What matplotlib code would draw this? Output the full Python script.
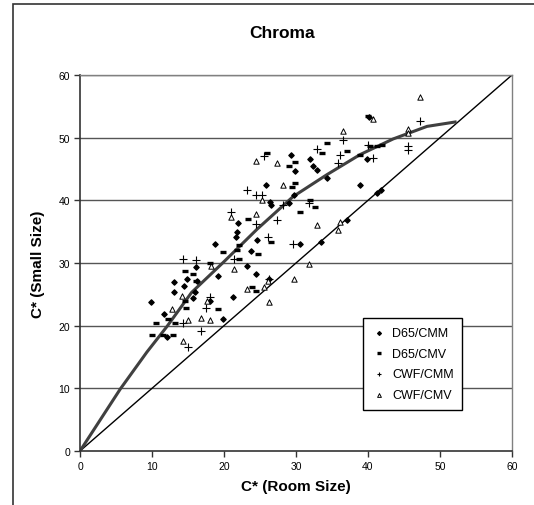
import matplotlib
matplotlib.use("Agg")
import matplotlib.pyplot as plt
from matplotlib.patches import Rectangle

plt.rcParams["font.family"] = ["Liberation Sans", "DejaVu Sans"]

# D65/CMM
d65_cmm_x = [9.9, 11.7, 12.1, 13.1, 13.1, 14.5, 14.9, 15.7, 16.0, 16.1, 16.2, 18.1, 18.75, 19.2,
             19.8, 21.2, 21.7, 21.8, 21.9, 23.2, 23.8, 24.4, 24.6, 25.8, 26.3, 26.4, 26.5, 29.0,
             29.3, 29.7, 29.9, 30.6, 31.9, 32.4, 32.9, 33.5, 34.3, 37.1, 38.9, 39.9, 40.2, 41.2, 41.8]
d65_cmm_y = [23.7, 21.8, 18.2, 26.9, 25.3, 26.4, 27.4, 24.4, 25.3, 29.3, 27.1, 24.0, 33.0, 27.9,
             21.1, 24.5, 34.1, 34.9, 36.4, 29.6, 31.9, 28.3, 33.6, 42.5, 27.5, 39.8, 39.3, 39.6,
             47.3, 40.9, 44.7, 33.1, 46.6, 45.5, 44.9, 33.4, 43.6, 36.9, 42.4, 46.6, 53.3, 41.2, 41.7]

# D65/CMV
d65_cmv_x = [10.0, 10.6, 11.5, 12.2, 12.9, 13.2, 14.6, 14.7, 14.6, 15.7, 16.1, 18.1, 19.2, 19.9,
             21.8, 22.1, 22.1, 23.3, 23.9, 24.4, 24.7, 26.5, 26.0, 29.0, 29.4, 29.9, 29.9, 30.6,
             31.9, 32.6, 33.6, 34.3, 37.1, 38.9, 40.0, 40.3, 41.3, 41.9]
d65_cmv_y = [18.5, 20.5, 18.5, 21.0, 18.5, 20.5, 23.9, 22.8, 28.7, 28.2, 27.1, 30.0, 22.6, 31.7,
             32.0, 32.8, 30.7, 37.1, 26.1, 25.5, 31.5, 33.3, 47.6, 45.5, 42.2, 42.8, 46.1, 38.1,
             40.0, 38.9, 47.6, 49.2, 47.9, 47.3, 53.5, 48.6, 48.6, 48.9]

# CWF/CMM
cwf_cmm_x = [14.3, 16.1, 21.4, 14.3, 15.0, 16.8, 17.5, 18.1, 21.0, 23.2, 24.4, 24.4, 25.3, 25.6,
             26.1, 26.2, 27.3, 28.2, 29.6, 31.8, 32.9, 35.8, 36.1, 36.5, 40.0, 40.7, 45.6, 45.6, 47.2]
cwf_cmm_y = [30.7, 30.4, 30.7, 20.5, 16.6, 19.1, 22.8, 24.5, 38.1, 41.6, 40.9, 36.2, 40.9, 47.1,
             34.2, 27.4, 36.9, 39.2, 33.0, 39.5, 48.2, 46.0, 47.3, 49.7, 48.9, 46.7, 48.6, 48.1, 52.7]

# CWF/CMV
cwf_cmv_x = [12.8, 14.2, 14.3, 15.0, 16.8, 17.6, 18.1, 18.2, 21.0, 21.4, 23.2, 24.4, 24.4, 25.3,
             25.6, 26.1, 26.3, 27.3, 28.2, 29.7, 31.8, 32.9, 35.8, 36.1, 36.5, 40.7, 45.6, 45.6, 47.2]
cwf_cmv_y = [22.6, 24.7, 17.5, 20.9, 21.3, 24.0, 20.9, 29.6, 37.4, 29.1, 25.9, 46.2, 37.8, 40.0,
             26.1, 27.2, 23.7, 46.0, 42.5, 27.5, 29.8, 36.0, 35.2, 36.5, 51.0, 53.0, 51.4, 50.8, 56.5]

# fitted curve and 1:1 line
curve_x = [0, 5.6, 9.3, 12.1, 15.5, 19.9, 24.6, 29.6, 34.3, 38.9, 43.5, 48.2, 52.1]
curve_y = [0, 9.9, 15.8, 19.9, 25.3, 30.1, 35.4, 40.6, 44.1, 47.3, 49.8, 51.8, 52.5]
diag = [0, 60]

ticks = [0, 10, 20, 30, 40, 50, 60]

fig = plt.figure(figsize=(5.34, 5.06), dpi=100)

# outer chart frame (cut off at right and bottom)
fig.patches.append(Rectangle((13 / 534, -0.1), 1.2, 1 - 5 / 506 + 0.1,
                             transform=fig.transFigure, fill=False,
                             edgecolor="#333333", linewidth=1.2))

ax = fig.add_axes([80 / 534, 54 / 506, 432 / 534, 376 / 506])

for y in ticks[1:]:
    ax.axhline(y, color="#555555", linewidth=1.0, zorder=1)

ax.plot(diag, diag, color="black", linewidth=1.0, zorder=2)
ax.plot(curve_x, curve_y, color="#404040", linewidth=2.2, zorder=2)

ax.scatter(d65_cmm_x, d65_cmm_y, marker="D", s=7, color="black", label="D65/CMM", zorder=3)
ax.scatter(d65_cmv_x, d65_cmv_y, marker="_", s=24, color="black", linewidths=2.4,
           label="D65/CMV", zorder=3)
ax.scatter(cwf_cmm_x, cwf_cmm_y, marker="+", s=26, color="black", linewidths=0.8,
           label="CWF/CMM", zorder=3)
ax.scatter(cwf_cmv_x, cwf_cmv_y, marker="^", s=15, facecolors="white", edgecolors="black",
           linewidths=0.7, label="CWF/CMV", zorder=3)

ax.set_xlim(0, 60)
ax.set_ylim(0, 60)
ax.set_xticks(ticks)
ax.set_yticks(ticks)
ax.tick_params(direction="out", length=4, width=1, labelsize=7.5, pad=3, color="#333333")

for side in ["top", "right"]:
    ax.spines[side].set_color("#808080")
    ax.spines[side].set_linewidth(1.0)
for side in ["left", "bottom"]:
    ax.spines[side].set_color("#333333")
    ax.spines[side].set_linewidth(1.2)

ax.set_xlabel("C* (Room Size)", fontsize=11, fontweight="bold", labelpad=6)
ax.set_ylabel("C* (Small Size)", fontsize=11, fontweight="bold", labelpad=10)
fig.text(282 / 534, 1 - 34 / 506, "Chroma", fontsize=12.5, fontweight="bold",
         ha="center", va="center")

leg = ax.legend(loc="lower left", bbox_to_anchor=(0.641, 0.093), fontsize=9,
                frameon=True, fancybox=False, edgecolor="black", framealpha=1,
                handletextpad=0.4, labelspacing=0.7, borderpad=0.7, handlelength=1.2,
                markerscale=0.7)
leg.get_frame().set_linewidth(1.0)

fig.savefig("out.png", dpi=100)
plt.close(fig)
